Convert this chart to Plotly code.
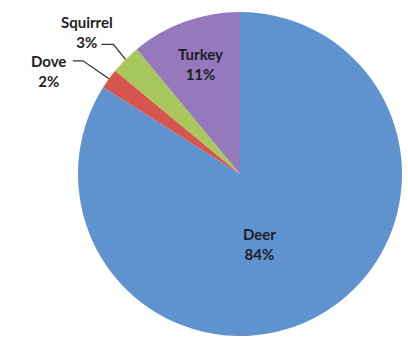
import math
import plotly.graph_objects as go

# Harvest share by species
species = ["Deer", "Dove", "Squirrel", "Turkey"]
shares = [84, 2, 3, 11]
colors = ["#5E93D0", "#D6554F", "#A8C75C", "#9579BC"]

W, H = 408, 342
cx, cy, r = 240, 174, 162  # pie centre / radius in pixels (top-left origin)

label_font = dict(family="Lato, 'Open Sans', sans-serif", size=15, color="#1E1E28")

fig = go.Figure(
    go.Pie(
        labels=species,
        values=shares,
        sort=False,
        direction="clockwise",
        rotation=0,
        marker=dict(colors=colors, line=dict(width=0)),
        textinfo="none",
        showlegend=False,
        hoverinfo="label+percent",
        domain=dict(
            x=[(cx - r) / W, (cx + r) / W],
            y=[(H - cy - r) / H, (H - cy + r) / H],
        ),
    )
)


def to_paper(x, y):
    return x / W, 1 - y / H


# Label placement: inside labels sit at (angle offset, radius fraction) from the
# slice mid-angle; outside labels get an elbow leader from the slice rim.
inside = {"Deer": (13, 0.45), "Turkey": (0, 0.72)}
leaders = {
    # elbow offset, line end offset, label centre offset (pixels from rim point)
    "Dove": ((-26, -18), (-36, -18), (-60, -8)),
    "Squirrel": ((-12, -15), (-24, -15), (-38, -27)),
}

total = sum(shares)
start = 0.0
for s, v in zip(species, shares):
    mid = start + v / 2
    start += v
    ang = 2 * math.pi * mid / total  # clockwise from 12 o'clock
    text = f"<b>{s}<br>{v}%</b>"
    if s in inside:
        dang, frac = inside[s]
        a = ang + math.radians(dang)
        lx = cx + r * frac * math.sin(a)
        ly = cy - r * frac * math.cos(a)
    else:
        px = cx + r * math.sin(ang)
        py = cy - r * math.cos(ang)
        (ex, ey), (fx, fy), (tx, ty) = leaders[s]
        x0, y0 = to_paper(px, py)
        x1, y1 = to_paper(px + ex, py + ey)
        x2, y2 = to_paper(px + fx, py + fy)
        fig.add_shape(
            type="path",
            path=f"M {x0} {y0} L {x1} {y1} L {x2} {y2}",
            xref="paper", yref="paper",
            line=dict(color="#333333", width=1.3),
        )
        lx, ly = px + tx, py + ty
    ax, ay = to_paper(lx, ly)
    fig.add_annotation(
        x=ax, y=ay, xref="paper", yref="paper",
        text=text, showarrow=False,
        xanchor="center", yanchor="middle", align="center",
        font=label_font,
    )

fig.update_layout(
    width=W, height=H,
    margin=dict(l=0, r=0, t=0, b=0),
    paper_bgcolor="white",
    plot_bgcolor="white",
)

fig.write_html("out.html")
